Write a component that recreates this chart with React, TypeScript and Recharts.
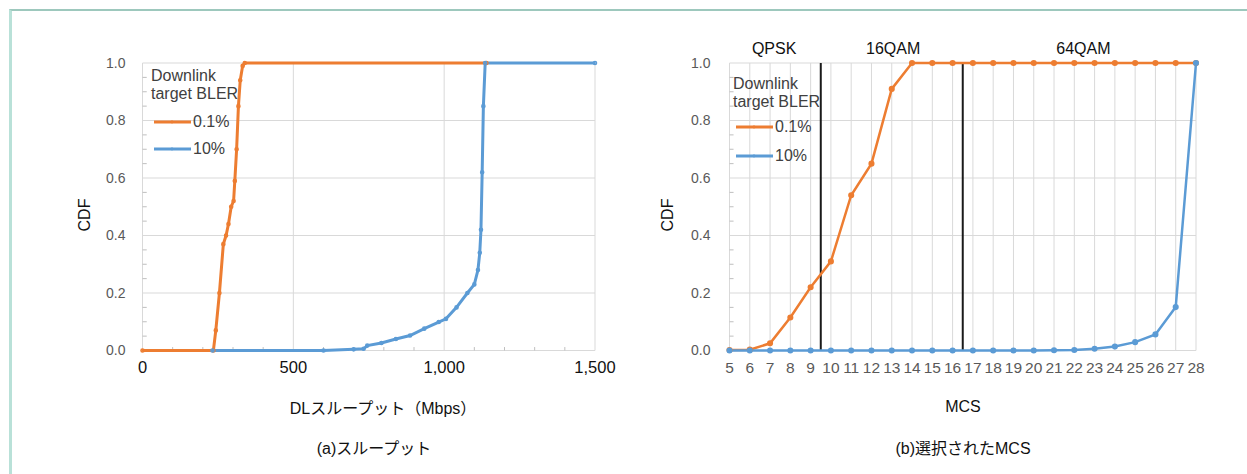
import React from "react";
import { LineChart, Line, XAxis, YAxis, CartesianGrid, ReferenceLine, Legend } from "recharts";

// (a) throughput CDF, Mbps vs CDF
const thrOrangeX = [0, 235, 243, 255, 268, 277, 285, 294, 302, 306, 312, 318, 324, 332, 339, 1140];
const thrOrangeY = [0, 0, 0.07, 0.2, 0.37, 0.4, 0.44, 0.5, 0.52, 0.59, 0.7, 0.85, 0.94, 0.99, 1, 1];
const thrBlueX = [232, 600, 700, 733, 745, 792, 840, 887, 934, 982, 1006, 1041, 1077, 1100, 1112, 1118, 1122, 1126, 1130, 1136, 1500];
const thrBlueY = [0, 0, 0.004, 0.006, 0.017, 0.026, 0.04, 0.052, 0.076, 0.099, 0.11, 0.15, 0.2, 0.23, 0.28, 0.34, 0.42, 0.62, 0.85, 1, 1];
const thrTicks = [0, 500, 1000, 1500];
const thrMinorTicks = [100, 200, 300, 400, 600, 700, 800, 900, 1100, 1200, 1300, 1400];

// (b) selected MCS CDF
const mcs = [5, 6, 7, 8, 9, 10, 11, 12, 13, 14, 15, 16, 17, 18, 19, 20, 21, 22, 23, 24, 25, 26, 27, 28];
const mcsOrange = [0.002, 0.003, 0.025, 0.115, 0.22, 0.31, 0.54, 0.65, 0.91, 1, 1, 1, 1, 1, 1, 1, 1, 1, 1, 1, 1, 1, 1, 1];
const mcsBlue = [0, 0, 0, 0, 0, 0, 0, 0, 0, 0, 0, 0, 0, 0, 0, 0, 0.001, 0.002, 0.006, 0.014, 0.029, 0.056, 0.151, 1];
const modBounds = [9.5, 16.5];
const modNames = ["QPSK", "16QAM", "64QAM"];
const modCenters = [7.2, 13.07, 22.45];

const cdfTicks = [0, 0.2, 0.4, 0.6, 0.8, 1];
const cdfMinor = [0.05, 0.1, 0.15, 0.25, 0.3, 0.35, 0.45, 0.5, 0.55, 0.65, 0.7, 0.75, 0.85, 0.9, 0.95];

const seriesNames = ["0.1%", "10%"];
const ORANGE = "#ED7D31";
const BLUE = "#5B9BD5";
const GRID = "#d9d9d9";
const FONT = '"Liberation Sans", Arial, "Noto Sans CJK JP", sans-serif';

const thrOrange = thrOrangeX.map((x, i) => ({ x, y: thrOrangeY[i] }));
const thrBlue = thrBlueX.map((x, i) => ({ x, y: thrBlueY[i] }));
const mcsData = mcs.map((m, i) => ({ m, a: mcsOrange[i], b: mcsBlue[i] }));

function BlerLegend({ payload, gaps }: any) {
  return (
    <div style={{ fontFamily: FONT, fontSize: 16, color: "#404040", lineHeight: "18px" }}>
      <div>Downlink</div>
      <div>target BLER</div>
      {(payload || []).map((p: any, i: number) => (
        <div key={p.value} style={{ display: "flex", alignItems: "center", marginTop: gaps[i] }}>
          <svg width={40} height={10} style={{ marginLeft: 2 }}>
            <line x1={1} y1={5} x2={38} y2={5} stroke={p.color} strokeWidth={3} />
            <circle cx={19} cy={5} r={1.4} fill={p.color} />
          </svg>
          <span>{p.value}</span>
        </div>
      ))}
    </div>
  );
}

const tickGray = { fontSize: 14, fill: "#595959", fontFamily: FONT };

function ThroughputChart() {
  return (
    <LineChart width={640} height={474} margin={{ top: 63, right: 45, left: 82.5, bottom: 93.5 }}>
      <CartesianGrid stroke={GRID} strokeWidth={1} />
      <XAxis
        dataKey="x"
        type="number"
        domain={[0, 1500]}
        ticks={thrTicks}
        tickFormatter={(v) => v.toLocaleString("en-US")}
        tickLine={false}
        axisLine={false}
        tickSize={0}
        tickMargin={11}
        tick={{ fontSize: 16.5, fill: "#111", fontFamily: FONT }}
      />
      <YAxis
        type="number"
        domain={[0, 1]}
        ticks={cdfTicks}
        tickFormatter={(v) => v.toFixed(1)}
        width={60}
        tickLine={false}
        axisLine={false}
        tickSize={0}
        tickMargin={17}
        tick={tickGray}
      />
      {cdfMinor.map((v) => (
        <ReferenceLine key={"y" + v} segment={[{ x: 0, y: v }, { x: 14, y: v }]} stroke="#bfbfbf" />
      ))}
      {thrMinorTicks.map((v) => (
        <ReferenceLine key={"x" + v} segment={[{ x: v, y: 0 }, { x: v, y: 0.012 }]} stroke="#bfbfbf" />
      ))}
      <Legend
        layout="vertical"
        align="center"
        verticalAlign="middle"
        wrapperStyle={{ position: "absolute", top: 67, left: 151, width: "auto", height: "auto" }}
        content={(props: any) => <BlerLegend {...props} gaps={[10, 9]} />}
      />
      <Line data={thrOrange} dataKey="y" name={seriesNames[0]} stroke={ORANGE} strokeWidth={3}
        dot={{ r: 0.8, fill: ORANGE, stroke: ORANGE }} isAnimationActive={false} />
      <Line data={thrBlue} dataKey="y" name={seriesNames[1]} stroke={BLUE} strokeWidth={3}
        dot={{ r: 0.8, fill: BLUE, stroke: BLUE }} isAnimationActive={false} />
    </LineChart>
  );
}

function McsChart() {
  return (
    <LineChart width={607} height={474} data={mcsData} margin={{ top: 63, right: 51, left: 29.5, bottom: 93.5 }}>
      <CartesianGrid stroke={GRID} strokeWidth={1} />
      <XAxis
        dataKey="m"
        type="number"
        domain={[5, 28]}
        ticks={mcs}
        interval={0}
        tickLine={false}
        axisLine={false}
        tickSize={0}
        tickMargin={11}
        tick={{ fontSize: 15.5, fill: "#595959", fontFamily: FONT }}
      />
      <YAxis
        type="number"
        domain={[0, 1]}
        ticks={cdfTicks}
        tickFormatter={(v) => v.toFixed(1)}
        width={60}
        tickLine={false}
        axisLine={false}
        tickSize={0}
        tickMargin={19}
        tick={tickGray}
      />
      {cdfMinor.map((v) => (
        <ReferenceLine key={"y" + v} segment={[{ x: 5, y: v }, { x: 5.2, y: v }]} stroke="#bfbfbf" />
      ))}
      {modBounds.map((b) => (
        <ReferenceLine key={"b" + b} x={b} stroke="#1a1a1a" strokeWidth={2} />
      ))}
      {modNames.map((n, i) => (
        <ReferenceLine key={n} x={modCenters[i]} stroke="none"
          label={{ value: n, position: "top", offset: 9, fill: "#111", fontSize: 16, fontFamily: FONT }} />
      ))}
      <Legend
        layout="vertical"
        align="center"
        verticalAlign="middle"
        wrapperStyle={{ position: "absolute", top: 75, left: 93, width: "auto", height: "auto" }}
        content={(props: any) => <BlerLegend {...props} gaps={[7, 11]} />}
      />
      <Line dataKey="a" name={seriesNames[0]} stroke={ORANGE} strokeWidth={2.5}
        dot={{ r: 1.8, fill: ORANGE, stroke: ORANGE }} isAnimationActive={false} />
      <Line dataKey="b" name={seriesNames[1]} stroke={BLUE} strokeWidth={2.5}
        dot={{ r: 1.8, fill: BLUE, stroke: BLUE }} isAnimationActive={false} />
    </LineChart>
  );
}

const text = (s: React.CSSProperties): React.CSSProperties => ({
  position: "absolute",
  fontFamily: FONT,
  fontSize: 16,
  color: "#111",
  whiteSpace: "nowrap",
  transform: "translate(-50%, -50%)",
  ...s,
});

export default function App() {
  return (
    <div style={{ position: "absolute", left: 0, top: 0, width: 1247, height: 474, background: "#fff", overflow: "hidden" }}>
      <div style={{ position: "absolute", left: 9, top: 9, width: 1260, height: 480, borderTop: "2px solid #9dc8bd", borderLeft: "3px solid #b9e1d8" }} />
      <div style={{ position: "absolute", left: 0, top: 0 }}>
        <ThroughputChart />
      </div>
      <div style={{ position: "absolute", left: 640, top: 0 }}>
        <McsChart />
      </div>
      <div style={text({ left: 85, top: 215, transform: "translate(-50%, -50%) rotate(-90deg)" })}>CDF</div>
      <div style={text({ left: 668, top: 215, transform: "translate(-50%, -50%) rotate(-90deg)" })}>CDF</div>
      <div style={text({ left: 383, top: 407 })}>DLスループット（Mbps）</div>
      <div style={text({ left: 963, top: 407 })}>MCS</div>
      <div style={text({ left: 374, top: 447 })}>(a)スループット</div>
      <div style={text({ left: 963, top: 447 })}>(b)選択されたMCS</div>
    </div>
  );
}
